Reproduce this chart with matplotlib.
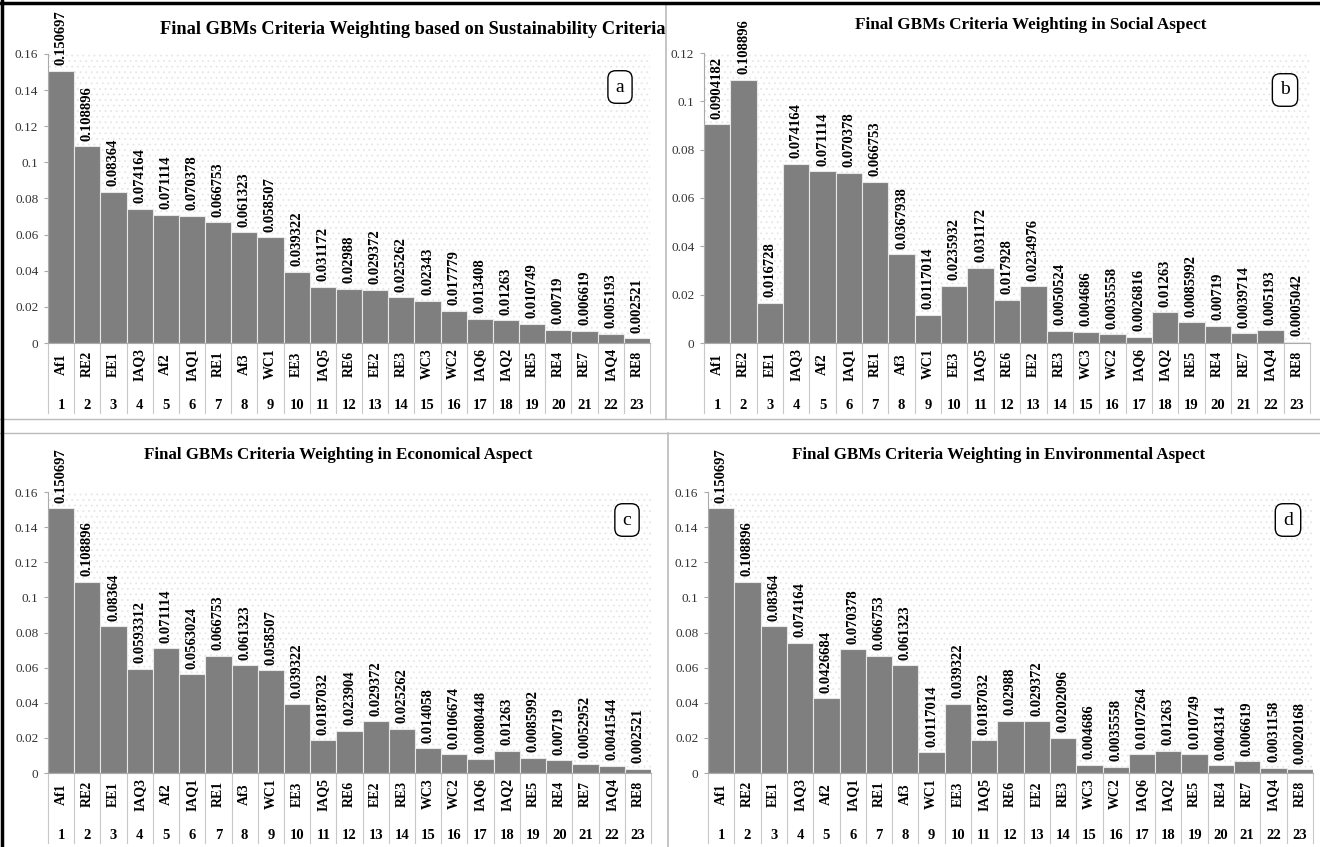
import numpy as np
import matplotlib
matplotlib.use("Agg")
import matplotlib.pyplot as plt
import matplotlib.transforms as mtransforms
from matplotlib.patches import Rectangle
from matplotlib.lines import Line2D
from matplotlib.ticker import FuncFormatter

plt.rcParams["font.family"] = ["Liberation Serif", "DejaVu Serif"]
plt.rcParams["hatch.linewidth"] = 0.6

criteria = ["Af1", "RE2", "EE1", "IAQ3", "Af2", "IAQ1", "RE1", "Af3", "WC1", "EE3",
            "IAQ5", "RE6", "EE2", "RE3", "WC3", "WC2", "IAQ6", "IAQ2", "RE5", "RE4",
            "RE7", "IAQ4", "RE8"]
ranks = list(range(1, 24))

w_sustain = [0.150697, 0.108896, 0.08364, 0.074164, 0.071114, 0.070378, 0.066753,
             0.061323, 0.058507, 0.039322, 0.031172, 0.02988, 0.029372, 0.025262,
             0.02343, 0.017779, 0.013408, 0.01263, 0.010749, 0.00719, 0.006619,
             0.005193, 0.002521]
w_social = [0.0904182, 0.108896, 0.016728, 0.074164, 0.071114, 0.070378, 0.066753,
            0.0367938, 0.0117014, 0.0235932, 0.031172, 0.017928, 0.0234976, 0.0050524,
            0.004686, 0.0035558, 0.0026816, 0.01263, 0.0085992, 0.00719, 0.0039714,
            0.005193, 0.0005042]
w_econ = [0.150697, 0.108896, 0.08364, 0.0593312, 0.071114, 0.0563024, 0.066753,
          0.061323, 0.058507, 0.039322, 0.0187032, 0.023904, 0.029372, 0.025262,
          0.014058, 0.0106674, 0.0080448, 0.01263, 0.0085992, 0.00719, 0.0052952,
          0.0041544, 0.002521]
w_env = [0.150697, 0.108896, 0.08364, 0.074164, 0.0426684, 0.070378, 0.066753,
         0.061323, 0.0117014, 0.039322, 0.0187032, 0.02988, 0.029372, 0.0202096,
         0.004686, 0.0035558, 0.0107264, 0.01263, 0.010749, 0.004314, 0.006619,
         0.0031158, 0.0020168]

titles = ["Final GBMs Criteria Weighting based on Sustainability Criteria",
          "Final GBMs Criteria Weighting in Social Aspect",
          "Final GBMs Criteria Weighting in Economical Aspect",
          "Final GBMs Criteria Weighting in Environmental Aspect"]
letters = ["a", "b", "c", "d"]
series = [w_sustain, w_social, w_econ, w_env]
ymaxes = [0.16, 0.12, 0.16, 0.16]

W, H = 1320, 847
# layout in pixels: left, right, zero line, top line, title x, title y, title size, box x, box y
layout = [
    (48, 650, 343, 54, 413, 30, 13.2, 620, 87),
    (704, 1310, 343, 53, 1031, 25, 12.3, 1285, 90),
    (48, 651, 773, 492, 338, 455, 12.2, 627, 520),
    (708, 1313, 773, 492, 999, 455, 12.2, 1288, 520),
]

fig = plt.figure(figsize=(13.2, 8.47), dpi=100)


def fx(px):
    return px / W


def fy(py):
    return 1 - py / H


bar_color = "#7f7f7f"
grid_grey = "#c8c8c8"

for k in range(4):
    left, right, zero, top, tx, ty, tsize, bx, by = layout[k]
    vals = series[k]
    ax = fig.add_axes([fx(left), fy(zero), (right - left) / W, (zero - top) / H])
    hpx = zero - top
    x = np.arange(len(criteria))

    ax.add_patch(Rectangle((0, 0), 1, 1, transform=ax.transAxes, facecolor="white",
                           edgecolor="#e6e6e6", hatch="...", lw=0, zorder=0))
    ax.bar(x, vals, width=1.0, color=bar_color, edgecolor="#e8e8e8", linewidth=0.8, zorder=2)
    ax.set_xlim(-0.5, len(criteria) - 0.5)
    ax.set_ylim(0, ymaxes[k])
    ax.set_yticks(np.arange(0, ymaxes[k] + 1e-9, 0.02))
    ax.yaxis.set_major_formatter(FuncFormatter(lambda v, p: f"{v:g}"))
    ax.tick_params(axis="y", labelsize=9.5, length=3, color="#aaaaaa", labelcolor="#333333", pad=4)
    ax.set_xticks([])
    for s in ["top", "right"]:
        ax.spines[s].set_visible(False)
    for s in ["left", "bottom"]:
        ax.spines[s].set_color("#aaaaaa")
        ax.spines[s].set_linewidth(0.8)

    for i, v in enumerate(vals):
        ax.annotate(f"{v}", (i, v), xytext=(0, 4), textcoords="offset points",
                    rotation=90, ha="center", va="bottom", fontsize=10.5,
                    fontweight="bold", annotation_clip=False, zorder=3)

    trans = mtransforms.blended_transform_factory(ax.transData, ax.transAxes)
    for i in range(len(criteria)):
        ax.text(i, -21 / hpx, criteria[i], rotation=90, ha="center", va="center",
                fontsize=10, fontweight="bold", transform=trans)
        ax.text(i, -62 / hpx, str(ranks[i]), ha="center", va="center",
                fontsize=10.5, fontweight="bold", transform=trans)
    for b in np.arange(-0.5, len(criteria)):
        ax.plot([b, b], [0, -70 / hpx], transform=trans, color=grid_grey, lw=0.8,
                clip_on=False)

    fig.text(fx(tx), fy(ty), titles[k], fontsize=tsize, fontweight="bold",
             ha="center", va="center")
    fig.text(fx(bx), fy(by), letters[k], fontsize=14, ha="center", va="center",
             bbox=dict(boxstyle="round,pad=0.4", fc="white", ec="black", lw=1))

# panel frames
frame = [
    ((0, 419), (W, 419), "#bbbbbb", 1.0),
    ((0, 433), (W, 433), "#bbbbbb", 1.0),
    ((666, 4), (666, 419), "#bbbbbb", 1.2),
    ((668, 433), (668, H), "#bbbbbb", 1.2),
    ((2, 0), (2, H), "black", 2.5),
    ((0, 3), (W, 3), "black", 2.5),
]
for (x0, y0), (x1, y1), c, lw in frame:
    fig.add_artist(Line2D([fx(x0), fx(x1)], [fy(y0), fy(y1)], transform=fig.transFigure,
                          color=c, lw=lw))

fig.savefig("out.png", dpi=100)
